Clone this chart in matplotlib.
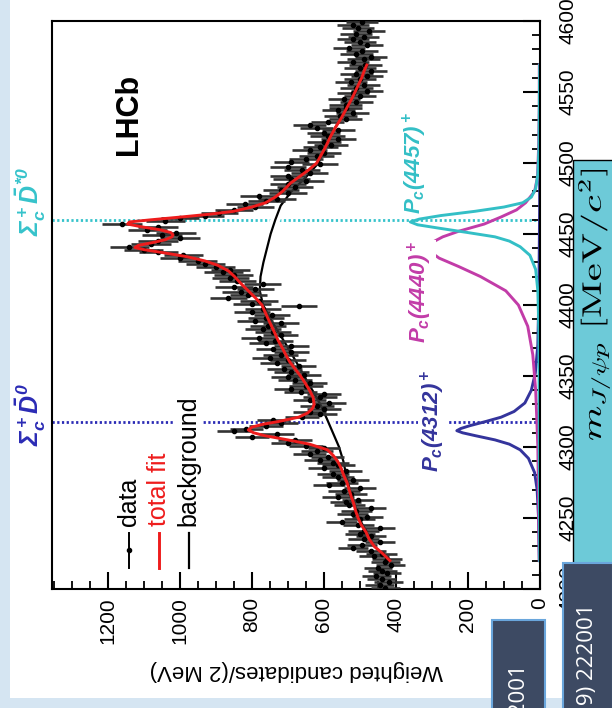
import matplotlib
matplotlib.use("Agg")
import matplotlib.pyplot as plt
import matplotlib.patheffects as pe
import numpy as np
from matplotlib.font_manager import FontProperties
from matplotlib.patches import PathPatch, Rectangle
from matplotlib.textpath import TextPath
from matplotlib.transforms import Affine2D

###############################################################################

##############################
###          Style         ###
##############################

plt.rcParams["font.family"] = ["Liberation Sans", "DejaVu Sans"]
plt.rcParams["mathtext.fontset"] = "custom"
for key in ["rm", "it", "bf", "sf"]:
    plt.rcParams[f"mathtext.{key}"] = "Liberation Sans:italic:bold"

blue = "#34349c"
magenta = "#c23ca8"
cyan = "#33bfc6"
red = "#ee1c1c"

##############################
###          Data          ###
##############################

# Weighted candidates per 2 MeV bin, bin centres 4201 ... 4599 MeV
mass_centers = np.arange(4201, 4600, 2)
counts = [
    430, 445, 420, 440, 455, 425, 438, 450, 415, 430, 425, 460, 440, 470, 520, 495, 445, 490, 470, 500,
    490, 445, 505, 550, 500, 480, 520, 510, 470, 530, 540, 505, 560, 525, 545, 500, 585, 550, 520, 560,
    575, 540, 600, 560, 575, 610, 590, 640, 620, 600, 650, 700, 680, 800, 730, 850, 815, 760, 720, 740,
    660, 610, 640, 600, 620, 585, 640, 610, 600, 665, 690, 650, 640, 680, 700, 655, 690, 710, 670, 730,
    700, 750, 720, 690, 740, 690, 760, 735, 780, 720, 740, 770, 755, 720, 790, 760, 745, 800, 770, 670,
    800, 780, 865, 810, 830, 790, 850, 770, 840, 860, 850, 880, 860, 900, 930, 950, 1000, 990, 1060, 1100,
    1140, 1080, 1060, 1000, 1050, 1010, 1090, 1060, 1160, 1040, 1000, 930, 890, 850, 790, 820, 760, 730, 780, 700,
    720, 680, 700, 650, 690, 700, 640, 660, 700, 610, 690, 650, 620, 600, 640, 610, 580, 600, 560, 590,
    600, 560, 620, 640, 590, 540, 555, 520, 560, 540, 540, 510, 545, 500, 520, 480, 510, 490, 525, 500,
    480, 510, 470, 500, 485, 520, 490, 470, 510, 495, 530, 480, 500, 520, 490, 510, 475, 505, 520, 495,
]
# Error on counts, one value per 20 MeV stretch
err_per_20mev = [40, 42, 43, 44, 45, 47, 47, 48, 49, 50, 52, 54, 55, 52, 50, 48, 46, 45, 45, 44]
errs = np.repeat(err_per_20mev, 10)

# Total fit
fit_mass = [4220, 4225, 4230, 4235, 4240, 4245, 4250, 4255, 4260, 4265, 4270, 4275, 4280, 4285, 4290,
            4294, 4298, 4302, 4305, 4308, 4310, 4312, 4314, 4316, 4318,
            4321, 4324, 4327, 4330, 4335, 4340, 4345, 4350, 4355, 4360,
            4365, 4370, 4375, 4380, 4386, 4392, 4400, 4405, 4410, 4415,
            4420, 4424, 4428, 4431, 4434, 4437, 4439, 4440.5, 4442, 4444,
            4446, 4448, 4449.5, 4451, 4453, 4455, 4457, 4458.5, 4460, 4462,
            4464, 4466, 4469, 4472, 4476, 4480, 4486, 4490, 4495, 4500,
            4505, 4510, 4518, 4525, 4532, 4539, 4546, 4553, 4560, 4565, 4569]
fit_vals = [417, 437, 460, 474, 483, 496, 505, 512, 517, 524, 530, 536, 545, 552, 562,
            574, 590, 640, 700, 765, 795, 810, 800, 770, 725,
            670, 645, 632, 627, 630, 640, 652, 665, 680, 695,
            706, 716, 727, 736, 747, 758, 772, 790, 810, 830,
            848, 865, 895, 930, 980, 1050, 1100, 1125, 1115, 1075,
            1040, 1022, 1019, 1025, 1055, 1105, 1145, 1140, 1080, 995,
            915, 850, 800, 762, 735, 715, 692, 670, 643, 620,
            609, 598, 583, 568, 551, 536, 521, 508, 495, 488, 481]

# Background
bkg_mass = [4220, 4230, 4240, 4250, 4260, 4270, 4280, 4290, 4300, 4310, 4320, 4330, 4340, 4350, 4360, 4370,
            4380, 4390, 4400, 4410, 4420, 4430, 4440, 4450, 4460, 4470, 4480, 4490, 4500, 4510, 4520,
            4530, 4540, 4550, 4560, 4569]
bkg_vals = [417, 460, 481, 503, 515, 528, 538, 546, 558, 575, 592, 610, 632, 655, 677, 700,
            724, 748, 769, 778, 776, 768, 758, 748, 735, 720, 690, 650, 615, 598, 580,
            557, 534, 512, 495, 481]

# Signal components
pc4312_mass = [4220, 4250, 4270, 4282, 4292, 4298, 4302, 4305, 4308, 4310, 4311.5, 4313, 4315, 4318,
               4321, 4325, 4331, 4340, 4352, 4372, 4410, 4470, 4569]
pc4312_vals = [2, 4, 8, 15, 32, 55, 85, 125, 180, 215, 231, 220, 195, 150,
               108, 72, 42, 24, 13, 6, 3, 1, 1]
pc4440_mass = [4220, 4300, 4340, 4365, 4385, 4400, 4410, 4420, 4427, 4433, 4437, 4440.5, 4444, 4448,
               4452, 4457, 4462, 4467, 4472, 4480, 4490, 4510, 4540, 4569]
pc4440_vals = [2, 6, 12, 20, 34, 60, 95, 165, 225, 280, 302, 310, 300, 270,
               225, 155, 108, 65, 40, 15, 7, 4, 2, 2]
pc4457_mass = [4220, 4380, 4410, 4425, 4435, 4441, 4445, 4448, 4451, 4454, 4456.5, 4458.5, 4460.5,
               4463, 4466, 4469, 4472, 4476, 4482, 4492, 4510, 4569]
pc4457_vals = [1, 3, 6, 12, 28, 55, 85, 125, 200, 278, 340, 360, 335,
               275, 180, 100, 48, 24, 12, 6, 3, 1]

# Thresholds (MeV)
thr_mass = [4317.7, 4459.8]
thr_labels = [r"$\Sigma_c^+\bar{D}^0$", r"$\Sigma_c^+\bar{D}^{*0}$"]
thr_colors = ["#2b2bb5", "#36c3cb"]

count_ticks = [0, 200, 400, 600, 800, 1000, 1200]
mass_ticks = [4200, 4250, 4300, 4350, 4400, 4450, 4500, 4550, 4600]

##############################
###         Figure         ###
##############################

W, H = 612, 708
fig = plt.figure(figsize=(W / 100, H / 100), dpi=100)
fig.patch.set_facecolor("#d5e5f2")
fig.add_artist(Rectangle((10 / W, 10 / H), 1, 1, transform=fig.transFigure,
                         facecolor="white", edgecolor="none", zorder=-5))

# Plot is rotated: x = counts (0 on the right), y = mass
ax = fig.add_axes([52 / W, 119 / H, 488 / W, 568 / H])
ax.set_xlim(1355, 0)
ax.set_ylim(4200, 4600)

# Threshold lines
for m, col in zip(thr_mass, thr_colors):
    ax.axhline(m, color=col, lw=2.0, linestyle=(0, (0.8, 0.9)), zorder=1)

# Components
ax.plot(pc4312_vals, pc4312_mass, color=blue, lw=2.1, zorder=2)
ax.plot(pc4440_vals, pc4440_mass, color=magenta, lw=2.1, zorder=2)
ax.plot(pc4457_vals, pc4457_mass, color=cyan, lw=2.1, zorder=2.1)

# Background
ax.plot(bkg_vals, bkg_mass, color="black", lw=1.6, zorder=3,
        path_effects=[pe.Stroke(linewidth=7, foreground="white"), pe.Normal()])

# Data
ax.errorbar(counts, mass_centers, xerr=errs, yerr=1.0, fmt="o", ms=3, color="black",
            ecolor="#333333", elinewidth=1.9, capsize=0, zorder=4)

# Total fit
ax.plot(fit_vals, fit_mass, color=red, lw=2.1, zorder=5)

##############################
###       Axes / ticks     ###
##############################

for s in ax.spines.values():
    s.set_linewidth(1.5)

ax.set_xticks(count_ticks)
ax.set_xticks(np.arange(0, 1351, 50), minor=True)
ax.set_yticks(mass_ticks)
ax.set_yticks(np.arange(4200, 4601, 10), minor=True)

ax.yaxis.tick_right()
ax.tick_params(axis="x", which="both", direction="in", top=False, bottom=True,
               labelsize=15, labelrotation=90, pad=6)
ax.tick_params(axis="y", which="both", direction="in", left=False, right=True,
               labelleft=False, labelright=True, labelsize=15, labelrotation=90, pad=13)
ax.tick_params(which="major", length=12, width=1.5)
ax.tick_params(which="minor", length=6, width=1.3)
for lab in ax.get_yticklabels():
    lab.set_verticalalignment("center")

fig.text(296 / W, 1 - 670 / H, "Weighted candidates/(2 MeV)", rotation=180,
         ha="center", va="center", fontsize=16)

##############################
###     Labels / legend    ###
##############################

ax.text(1142, 4534, "LHCb", rotation=90, ha="center", va="center",
        fontsize=22, fontweight="bold", zorder=6)

# Legend (drawn by hand, rotated)
ax.plot([1142, 1142], [4215, 4239.5], color="black", lw=1.4, clip_on=False)
ax.plot([1142], [4227.3], "o", ms=3, color="black")
ax.plot([1058, 1058], [4215, 4239.5], color=red, lw=2.1)
ax.plot([975, 975], [4215, 4239.5], color="black", lw=1.6)
for c, txt, col in zip([1142, 1058, 975], ["data", "total fit", "background"], ["black", red, "black"]):
    ax.text(c, 4244.5, txt, rotation=90, ha="center", va="bottom", fontsize=18, color=col,
            zorder=6, bbox=dict(facecolor="white", edgecolor="none", pad=1))

# Component labels
wbox = dict(facecolor="white", edgecolor="none", pad=1)
ax.text(297, 4318, r"$P_c(4312)^+$", rotation=90, ha="center", va="center",
        fontsize=16, color=blue, zorder=6, bbox=wbox)
ax.text(333, 4409, r"$P_c(4440)^+$", rotation=90, ha="center", va="center",
        fontsize=16, color=magenta, zorder=6, bbox=wbox)
ax.text(347, 4500, r"$P_c(4457)^+$", rotation=90, ha="center", va="center",
        fontsize=16, color=cyan, zorder=6, bbox=wbox)

# Threshold labels outside the frame
for m, txt, col in zip([4323, 4473], thr_labels, thr_colors):
    ax.text(1414, m, txt, rotation=90, ha="center", va="center", fontsize=18,
            color=col, clip_on=False)

##############################
###    Slide overlays      ###
##############################

# Mass axis label in a cyan box (stretched LaTeX image on the slide)
fig.add_artist(Rectangle((573 / W, (H - 600) / H), 60 / W, 440 / H, transform=fig.transFigure,
                         facecolor="#6dcad8", edgecolor="black", lw=1, zorder=8))
tp = TextPath((0, 0), r"$m_{J/\psi p}\ [\mathrm{MeV}/c^2]$", size=20,
              prop=FontProperties(math_fontfamily="cm"))
bb = tp.get_extents()
y0, y1 = H - 440, H - 170
x0, x1 = 578, 610
T = (Affine2D().translate(-bb.x0, -bb.y0)
     .scale((y1 - y0) / bb.width, (x1 - x0) / bb.height)
     .rotate_deg(90).translate(x1, y0).scale(1 / W, 1 / H))
fig.add_artist(PathPatch(T.transform_path(tp), transform=fig.transFigure,
                         facecolor="black", edgecolor="none", zorder=9))

# Dark reference boxes at the bottom
for (bx0, bx1, by_top), txt, ty in zip([(492, 545, 620), (563, 613, 563)],
                                       ["22001", "(2019) 222001"], [662, 603]):
    fig.add_artist(Rectangle((bx0 / W, -0.01), (bx1 - bx0) / W, (H - by_top) / H + 0.01,
                             transform=fig.transFigure, facecolor="#3d4a63",
                             edgecolor="#6aa6dc", lw=1.5, zorder=10))
    fig.text((bx0 + bx1) / 2 / W, 1 - ty / H, txt, rotation=90, ha="center", va="top",
             fontsize=16, color="white", family="Open Sans", zorder=11)

fig.savefig("out.png", dpi=100)
